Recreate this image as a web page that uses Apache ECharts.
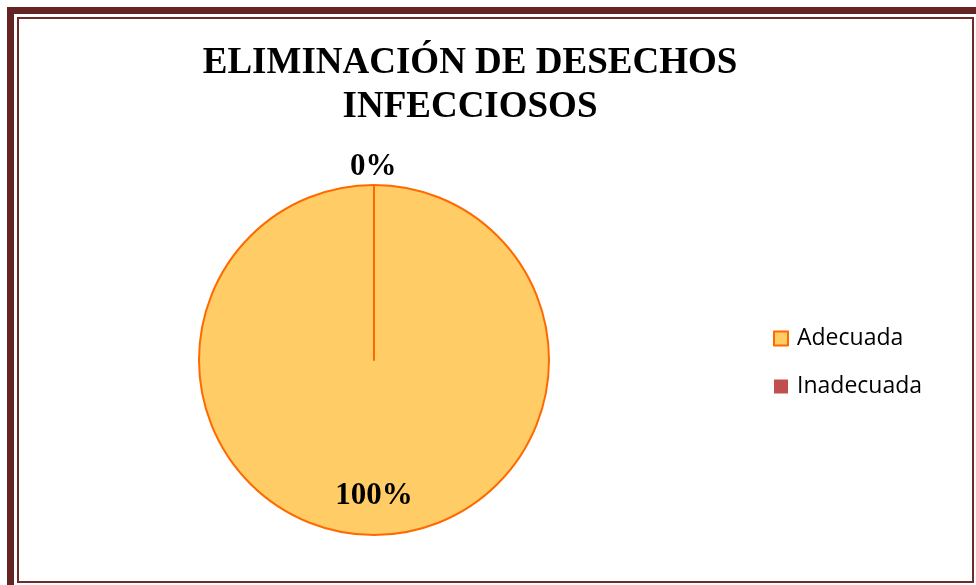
<!DOCTYPE html>
<html>
<head>
<meta charset="utf-8">
<script src="https://cdn.jsdelivr.net/npm/echarts@6/dist/echarts.min.js"></script>
<style>
    html, body { margin: 0; padding: 0; background: #fff; }
    #wrap { position: relative; width: 976px; height: 585px; overflow: hidden; }
    /* marco doble */
    .outer { position: absolute; left: 7px; top: 7px; width: 990px; height: 600px; border: 7px solid #632523; box-sizing: border-box; }
    .inner { position: absolute; left: 17px; top: 17px; width: 957px; height: 566px; border: 2px solid #6d2b2a; box-sizing: border-box; }
    #main { position: absolute; left: 0; top: 0; width: 976px; height: 585px; }
</style>
</head>
<body>
<div id="wrap">
    <div class="outer"></div>
    <div class="inner"></div>
    <div id="main"></div>
</div>
<script>
    // datos
    var categorias = ['Adecuada', 'Inadecuada'];
    var valores = [100, 0];
    var etiquetas = ['100%', '0%'];
    var colores = ['#ffcc66', '#c0504d'];

    var myChart = echarts.init(document.getElementById('main'));

    var datos = [];
    for (var i = 0; i < categorias.length; i++) {
        datos.push({
            name: categorias[i],
            value: valores[i],
            itemStyle: { color: colores[i] }
        });
    }
    // 100% dentro, 0% arriba fuera
    datos[0].label = { position: 'inside', offset: [0, 45] };
    datos[1].label = { position: 'outside', offset: [-29, -12] };
    datos[1].labelLine = { show: false, length: 6, length2: 0 };

    var options = {
        animation: false,
        title: {
            text: 'ELIMINACIÓN DE DESECHOS\nINFECCIOSOS',
            left: 465,
            top: 36,
            textAlign: 'center',
            textStyle: {
                fontFamily: 'Liberation Serif',
                fontSize: 37,
                fontWeight: 'bold',
                color: '#000',
                lineHeight: 44
            }
        },
        legend: {
            orient: 'vertical',
            left: 768,
            top: 322,
            itemWidth: 14,
            itemHeight: 14,
            itemGap: 25,
            icon: 'rect',
            data: [
                { name: 'Adecuada', itemStyle: { borderColor: '#ff6a00', borderWidth: 2 } },
                { name: 'Inadecuada', itemStyle: { borderWidth: 0 } }
            ],
            textStyle: {
                fontFamily: 'Open Sans',
                fontSize: 23,
                color: '#000',
                padding: [0, 0, 0, 4]
            }
        },
        series: [{
            type: 'pie',
            center: [374, 360],
            radius: 175,
            startAngle: 90,
            clockwise: true,
            stillShowZeroSum: true,
            minAngle: 0,
            avoidLabelOverlap: false,
            itemStyle: {
                borderColor: '#ff6a00',
                borderWidth: 2
            },
            label: {
                show: true,
                formatter: function (p) {
                    return etiquetas[p.dataIndex];
                },
                fontFamily: 'Liberation Serif',
                fontWeight: 'bold',
                fontSize: 31,
                color: '#000'
            },
            labelLine: { show: false },
            emphasis: { disabled: true },
            data: datos
        }]
    };
    myChart.setOption(options);
</script>
</body>
</html>
